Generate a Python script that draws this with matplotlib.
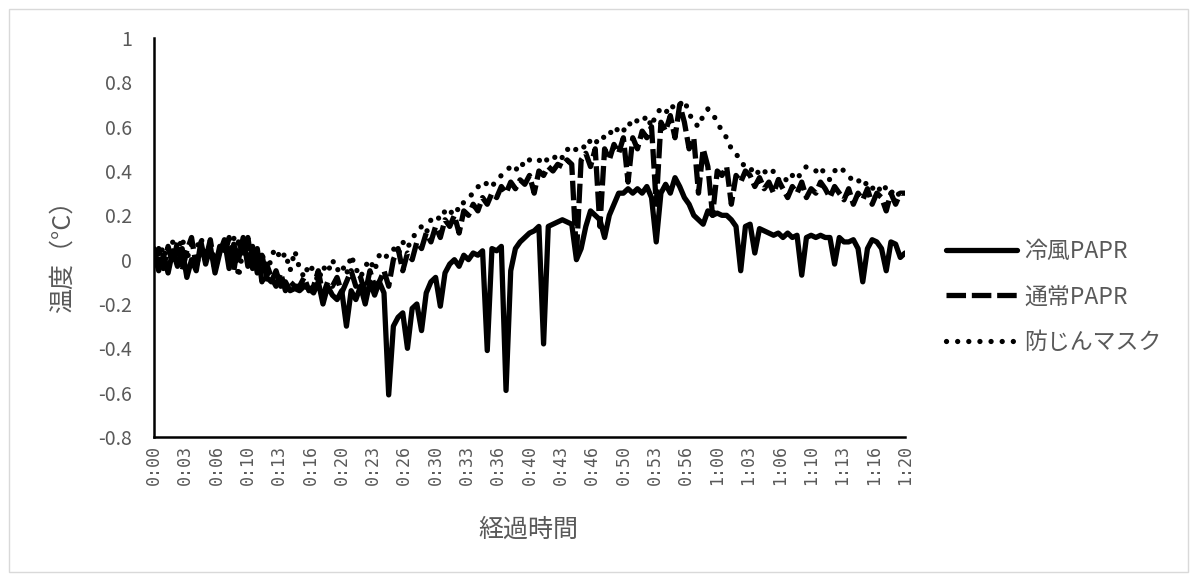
import numpy as np
import matplotlib
matplotlib.use("Agg")
import matplotlib.pyplot as plt
from matplotlib.patches import Rectangle

plt.rcParams['font.family'] = ['Noto Sans CJK JP', 'DejaVu Sans']

# Elapsed time, minutes (30 s sampling, 0:00 - 1:20)
minutes = np.arange(161) * 0.5

# 冷風PAPR
cool_papr = [
    0.03, -0.05, 0.02, -0.06, 0.04, -0.03, 0.05, -0.08, 0.0, -0.05,
    0.08, -0.02, 0.06, -0.06, 0.03, 0.09, -0.04, 0.07, 0.0, 0.1,
    -0.03, 0.06, -0.06, 0.02, -0.08, -0.1, -0.05, -0.12, -0.1, -0.14,
    -0.13, -0.14, -0.12, -0.13, -0.15, -0.1, -0.2, -0.12, -0.16, -0.18,
    -0.14, -0.3, -0.14, -0.18, -0.12, -0.2, -0.1, -0.16, -0.1, -0.15,
    -0.61, -0.3, -0.26, -0.24, -0.4, -0.22, -0.2, -0.32, -0.15, -0.1,
    -0.08, -0.21, -0.06, -0.02, 0.0, -0.03, 0.02, 0.0, 0.03, 0.02,
    0.04, -0.41, 0.05, 0.04, 0.06, -0.59, -0.05, 0.05, 0.08, 0.1,
    0.12, 0.13, 0.15, -0.38, 0.15, 0.16, 0.17, 0.18, 0.17, 0.16,
    0.0, 0.05, 0.15, 0.22, 0.2, 0.18, 0.1, 0.2, 0.25, 0.3,
    0.3, 0.32, 0.3, 0.32, 0.3, 0.33, 0.28, 0.08, 0.3, 0.34,
    0.3, 0.37, 0.33, 0.28, 0.25, 0.2, 0.18, 0.16, 0.22, 0.2,
    0.21, 0.2, 0.2, 0.18, 0.15, -0.05, 0.15, 0.16, 0.03, 0.14,
    0.13, 0.12, 0.11, 0.12, 0.1, 0.12, 0.1, 0.11, -0.07, 0.1,
    0.11, 0.1, 0.11, 0.1, 0.1, -0.02, 0.1, 0.08, 0.08, 0.09,
    0.05, -0.1, 0.05, 0.09, 0.08, 0.05, -0.05, 0.08, 0.07, 0.01,
    0.03,
]

# 通常PAPR
std_papr = [
    0.0, 0.05, -0.04, 0.06, -0.02, 0.08, -0.05, 0.04, 0.1, -0.03,
    0.05, 0.0, 0.09, -0.04, 0.06, 0.02, 0.1, -0.05, 0.08, 0.03,
    0.1, -0.04, 0.05, -0.1, -0.02, -0.08, -0.12, -0.06, -0.14, -0.1,
    -0.12, -0.12, -0.08, -0.14, -0.12, -0.05, -0.16, -0.1, -0.12, -0.08,
    -0.15, -0.1, -0.05, -0.12, -0.08, -0.15, -0.05, -0.12, -0.1, -0.05,
    -0.12, 0.0, 0.05, -0.05, 0.03, 0.0, 0.08, 0.05, 0.12, 0.08,
    0.15, 0.1, 0.18, 0.15, 0.2, 0.12, 0.22, 0.2, 0.25, 0.22,
    0.28, 0.25, 0.3, 0.28, 0.33, 0.3, 0.35, 0.32, 0.36, 0.34,
    0.38, 0.3, 0.4, 0.38, 0.42, 0.4, 0.43, 0.42, 0.45, 0.43,
    0.02, 0.45, 0.48, 0.42, 0.5, 0.15, 0.5, 0.45, 0.52, 0.48,
    0.55, 0.35, 0.55, 0.5, 0.58, 0.55, 0.6, 0.25, 0.62, 0.58,
    0.65, 0.55, 0.7, 0.62, 0.5, 0.55, 0.3, 0.5, 0.42, 0.2,
    0.4, 0.38, 0.42, 0.25, 0.38, 0.35, 0.4, 0.38, 0.33, 0.37,
    0.32, 0.35, 0.3, 0.36, 0.32, 0.28, 0.33, 0.3, 0.35, 0.28,
    0.32, 0.3, 0.35, 0.32, 0.28, 0.33, 0.3, 0.27, 0.32, 0.25,
    0.3, 0.27, 0.32, 0.25, 0.3, 0.28, 0.22, 0.3, 0.25, 0.3,
    0.3,
]

# 防じんマスク
dust_mask = [
    0.05, 0.0, 0.06, -0.02, 0.08, 0.03, 0.1, 0.0, 0.07, 0.05,
    0.1, 0.02, 0.06, -0.05, 0.04, 0.08, 0.0, 0.1, -0.08, 0.05,
    0.08, 0.0, -0.05, 0.04, -0.1, 0.02, 0.05, 0.0, 0.03, -0.05,
    0.04, -0.04, -0.08, -0.02, -0.05, -0.1, -0.03, -0.06, 0.0, -0.05,
    -0.02, -0.07, 0.02, -0.04, -0.08, -0.03, 0.0, -0.05, 0.02, 0.0,
    0.03, 0.05, 0.02, 0.08, 0.05, 0.1, 0.12, 0.15, 0.12, 0.18,
    0.2, 0.18, 0.22, 0.2, 0.24, 0.22, 0.26, 0.28, 0.3, 0.33,
    0.32, 0.35, 0.33, 0.36, 0.38, 0.4, 0.42, 0.4, 0.44, 0.42,
    0.45, 0.44, 0.45, 0.43, 0.46, 0.45, 0.48, 0.46, 0.5, 0.48,
    0.5, 0.52, 0.5, 0.54, 0.52, 0.56, 0.55, 0.58, 0.56, 0.6,
    0.58, 0.62, 0.6, 0.63, 0.62, 0.65, 0.6, 0.66, 0.68, 0.66,
    0.7, 0.68, 0.7, 0.72, 0.66, 0.62, 0.6, 0.65, 0.68, 0.66,
    0.62, 0.58, 0.55, 0.5, 0.48, 0.44, 0.42, 0.4, 0.42, 0.38,
    0.4, 0.38, 0.4, 0.36, 0.38, 0.35, 0.38, 0.36, 0.4, 0.42,
    0.41, 0.4, 0.42, 0.38, 0.36, 0.4, 0.42, 0.4, 0.38, 0.35,
    0.36, 0.33, 0.35, 0.32, 0.34, 0.3, 0.33, 0.3, 0.32, 0.28,
    0.3,
]

series_names = ['冷風PAPR', '通常PAPR', '防じんマスク']

x_tick_labels = ['0:00', '0:03', '0:06', '0:10', '0:13', '0:16', '0:20', '0:23',
                 '0:26', '0:30', '0:33', '0:36', '0:40', '0:43', '0:46', '0:50',
                 '0:53', '0:56', '1:00', '1:03', '1:06', '1:10', '1:13', '1:16',
                 '1:20']
y_ticks = [-0.8, -0.6, -0.4, -0.2, 0, 0.2, 0.4, 0.6, 0.8, 1]

W, H = 1195, 579
fig = plt.figure(figsize=(W / 100, H / 100), dpi=100)
ax = fig.add_axes([154 / W, 1 - 437 / H, (905 - 154) / W, (437 - 38) / H])

lw = 3.8
ax.plot(minutes, cool_papr, color='black', lw=lw, solid_joinstyle='round',
        solid_capstyle='round', label=series_names[0])
ax.plot(minutes, std_papr, color='black', lw=lw, linestyle=(0, (3.7, 1.1)),
        dash_joinstyle='round', label=series_names[1])
ax.plot(minutes, dust_mask, color='black', lw=lw, linestyle=(0, (0.01, 2.1)),
        dash_capstyle='round', label=series_names[2])

ax.set_xlim(0, 80)
ax.set_ylim(-0.8, 1)

tick_pos = np.arange(len(x_tick_labels)) * 80 / (len(x_tick_labels) - 1)
ax.set_xticks(tick_pos)
ax.set_xticklabels(x_tick_labels, rotation=90, family='DejaVu Sans Mono',
                   fontsize=12, color='#595959')
ax.set_yticks(y_ticks)
ax.set_yticklabels(['1' if v == 1 else ('0' if v == 0 else f'{v:.1f}') for v in y_ticks],
                   fontsize=14, color='#595959')
ax.tick_params(axis='x', length=0, pad=6)
ax.tick_params(axis='y', length=0, pad=16)

for side in ('top', 'right'):
    ax.spines[side].set_visible(False)
for side in ('left', 'bottom'):
    ax.spines[side].set_linewidth(1.8)
    ax.spines[side].set_color('black')

fig.text(63 / W, 1 - 250 / H, '温度（°C）', rotation=90, ha='center', va='center',
         fontsize=18, color='#595959')
fig.text(528 / W, 1 - 530 / H, '経過時間', ha='center', va='center',
         fontsize=18, color='#595959')

leg = ax.legend(loc='center left', bbox_to_anchor=(946 / W, 1 - 297 / H),
                bbox_transform=fig.transFigure, frameon=False, fontsize=16.5,
                handlelength=3.1, handletextpad=0.3, labelspacing=1.0,
                borderaxespad=0, borderpad=0)
for t in leg.get_texts():
    t.set_color('#595959')

fig.patches.append(Rectangle((9 / W, 1 - 572 / H), (1188 - 9) / W, (572 - 9) / H,
                             transform=fig.transFigure, fill=False,
                             edgecolor='#d9d9d9', lw=1))

fig.savefig('out.png', dpi=100, facecolor='white')
